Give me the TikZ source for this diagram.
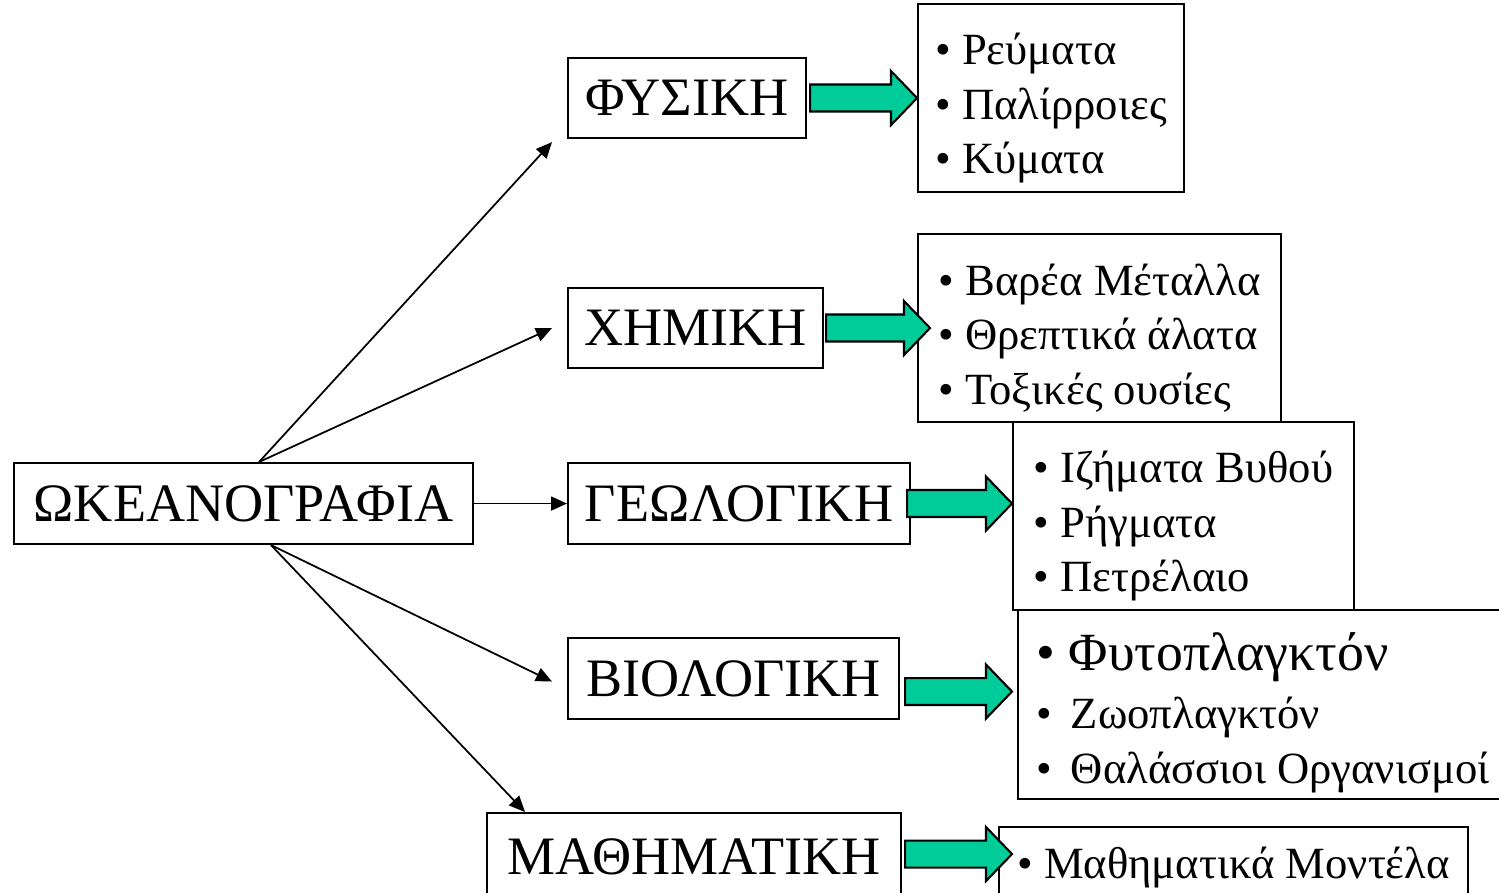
\documentclass[tikz,border=0pt]{standalone}
\usepackage{fontspec}
\setmainfont{Liberation Serif}
\usepackage{xcolor}
\usetikzlibrary{calc,arrows.meta}

\definecolor{seagreen}{RGB}{0,204,153}

\tikzset{
  field/.style={draw=black, line width=0.6pt, inner sep=0pt, anchor=north west,
    font=\fontsize{15.4}{18}\selectfont},
  topics/.style={draw=black, line width=0.6pt, inner sep=0pt, anchor=north west},
  items/.style={inner sep=0pt, align=left, font=\fontsize{12.7}{15.6}\selectfont},
  fat/.style={draw=black, line width=0.6pt, fill=seagreen, line join=miter},
  thin/.style={line width=0.5pt, -{Triangle[length=0.16cm,width=0.14cm]}}
}

% block arrow: shaft from #1, tip at the x of #2
\newcommand{\fatarrow}[2]{%
  \draw[fat] let \p1=(#1), \p2=(#2) in
    (\x1,\y1+0.135cm) -- (\x2-0.26cm,\y1+0.135cm) -- (\x2-0.26cm,\y1+0.27cm)
    -- (\x2,\y1) -- (\x2-0.26cm,\y1-0.27cm) -- (\x2-0.26cm,\y1-0.135cm)
    -- (\x1,\y1-0.135cm) -- cycle;}

\begin{document}
\begin{tikzpicture}
         \useasboundingbox (0,0) rectangle (14.99,-8.93);

         \node[field, name=okean, minimum width=4.59cm, minimum height=0.81cm] at (0.13,-4.62) {ΩΚΕΑΝΟΓΡΑΦΙΑ};
         \node[field, name=fys, minimum width=2.38cm, minimum height=0.80cm] at (5.67,-0.57) {ΦΥΣΙΚΗ};
         \node[field, name=xim, minimum width=2.55cm, minimum height=0.80cm] at (5.67,-2.87) {ΧΗΜΙΚΗ};
         \node[field, name=geo, minimum width=3.42cm, minimum height=0.81cm] at (5.67,-4.62) {ΓΕΩΛΟΓΙΚΗ};
         \node[field, name=bio, minimum width=3.31cm, minimum height=0.81cm] at (5.67,-6.37) {ΒΙΟΛΟΓΙΚΗ};
         \node[field, name=math, minimum width=4.14cm, minimum height=0.88cm] at (4.86,-8.12) {ΜΑΘΗΜΑΤΙΚΗ};

         % lists on the right
         \node[topics, name=fysL, minimum width=2.66cm, minimum height=1.88cm] at (9.17,-0.03) {};
         \node[topics, name=ximL, minimum width=3.63cm, minimum height=1.88cm] at (9.17,-2.33) {};
         \node[topics, name=geoL, minimum width=3.41cm, minimum height=1.88cm] at (10.12,-4.21) {};
         \node[topics, name=bioL, minimum width=4.90cm, minimum height=1.89cm] at (10.17,-6.09) {};
         \node[topics, name=matL, minimum width=4.69cm, minimum height=0.80cm] at (9.98,-8.26) {};

         \node[items, name=fysT] at ($(fysL.center)+(0,-0.1)$)
            {• Ρεύματα\\• Παλίρροιες\\• Κύματα};
         \node[items, name=ximT] at ($(ximL.center)+(0,-0.1)$)
            {• Βαρέα Μέταλλα\\• Θρεπτικά άλατα\\• Τοξικές ουσίες};
         \node[items, name=geoT] at ($(geoL.center)+(0,-0.1)$)
            {• Ιζήματα Βυθού\\• Ρήγματα\\• Πετρέλαιο};
         \node[items, name=bioT] at ($(bioL.center)+(0,-0.08)$)
            {\fontsize{15.3}{16.5}\selectfont • Φυτοπλαγκτόν\\[0.03cm]
             • \,Ζωοπλαγκτόν\\• \,Θαλάσσιοι Οργανισμοί};
         \node[items, name=matT] at (matL.center) {• Μαθηματικά Μοντέλα};

         \coordinate (fysIn)  at ($(fys.south west)+(-0.15,-0.03)$);
         \coordinate (ximIn)  at ($(xim.west)+(-0.15,0)$);
         \coordinate (bioIn)  at ($(bio.west)+(-0.15,-0.03)$);
         \coordinate (mathIn) at ($(math.north west)+(0.39,0)$);

         \path[thin]
            ($(okean.north)+(0.155,0)$) edge (fysIn)
                                        edge (ximIn)
            (okean.east)                edge (geo.west)
            ($(okean.south)+(0.275,0)$) edge (bioIn)
                                        edge (mathIn);

         \fatarrow{$(fys.east)+(0.03,0)$}{fysL.west}
         \fatarrow{$(xim.east)+(0.02,0)$}{$(ximL.west)+(0.13,0)$}
         \fatarrow{$(geo.east)+(-0.04,0)$}{geoL.west}
         \fatarrow{$(bio.east)+(0.05,-0.13)$}{$(bioL.west)+(-0.05,0)$}
         \fatarrow{$(math.east)+(0.03,0.03)$}{$(matL.west)+(0.14,0)$}
      \end{tikzpicture}
\end{document}
